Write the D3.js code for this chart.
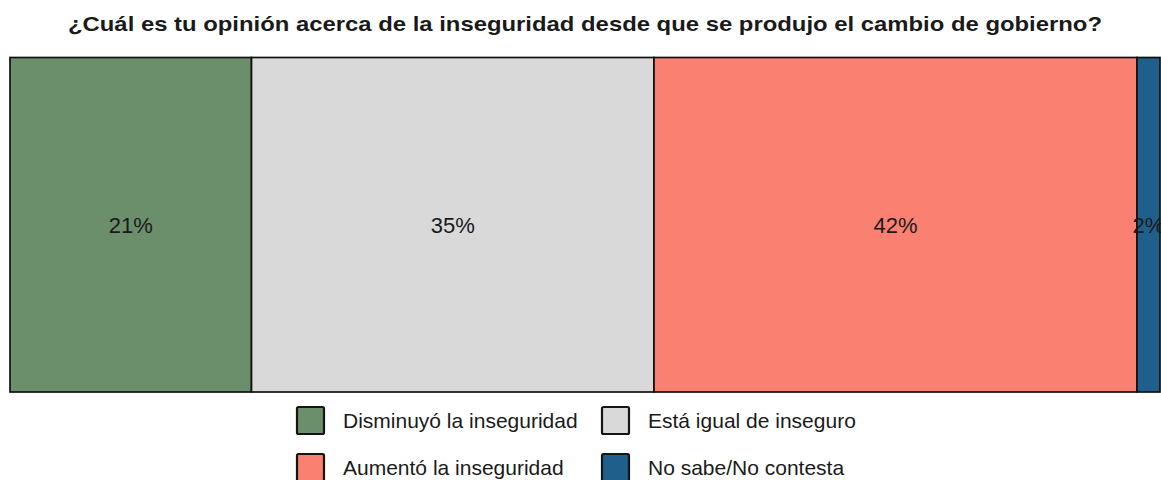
<!DOCTYPE html>
<html><head><meta charset="utf-8">
<script src="https://cdn.jsdelivr.net/npm/d3@7"></script>
<style>body{margin:0;background:#fff;} svg{display:block;}</style>
</head><body>
<script>
const categories = ["Disminuyó la inseguridad","Está igual de inseguro","Aumentó la inseguridad","No sabe/No contesta"];
const values = [21, 35, 42, 2];
const colors = ["#6B8E6B","#D9D9D9","#FA8072","#1F5F8B"];
const title = "¿Cuál es tu opinión acerca de la inseguridad desde que se produjo el cambio de gobierno?";

const W = 1161, H = 480;
const svg = d3.select("body").append("svg").attr("width", W).attr("height", H);
const font = "'Liberation Sans', Arial, Helvetica, sans-serif";

svg.append("text").attr("x", 68).attr("y", 31)
  .attr("font-family", font).attr("font-weight","bold").attr("font-size", 21)
  .attr("textLength", 1034).attr("lengthAdjust","spacingAndGlyphs")
  .attr("fill","#1a1a1a").text(title);

const x = d3.scaleLinear().domain([0, d3.sum(values)]).range([10, 1160]);
const y0 = 57.5, y1 = 392;
let cum = 0;
const segs = values.map((v,i)=>{ const s={v, i, a:cum, b:cum+v}; cum+=v; return s; });

svg.selectAll("rect.seg").data(segs).enter().append("rect")
  .attr("x", d=>x(d.a)).attr("y", y0).attr("width", d=>x(d.b)-x(d.a)).attr("height", y1-y0)
  .attr("fill", d=>colors[d.i]).attr("stroke","#111").attr("stroke-width",1.7);

svg.selectAll("text.lab").data(segs).enter().append("text")
  .attr("x", d=>(x(d.a)+x(d.b))/2).attr("y", 225).attr("dy","0.35em")
  .attr("text-anchor","middle").attr("font-family", font).attr("font-size", 22)
  .attr("fill","#1a1a1a").text(d=>d.v+"%");

// legend
const lx = [296, 601], ly = [406, 453];
const lg = svg.selectAll("g.leg").data(categories).enter().append("g")
  .attr("transform",(d,i)=>`translate(${lx[i%2]},${ly[Math.floor(i/2)]})`);
lg.append("rect").attr("x",1).attr("y",1).attr("width",27).attr("height",27)
  .attr("fill",(d,i)=>colors[i]).attr("stroke","#151515").attr("stroke-width",2.2).attr("rx",1.5);
lg.append("text").attr("x",47).attr("y",15).attr("dy","0.35em")
  .attr("font-family", font).attr("font-size",21).attr("fill","#1a1a1a").text(d=>d);
</script>
</body></html>
